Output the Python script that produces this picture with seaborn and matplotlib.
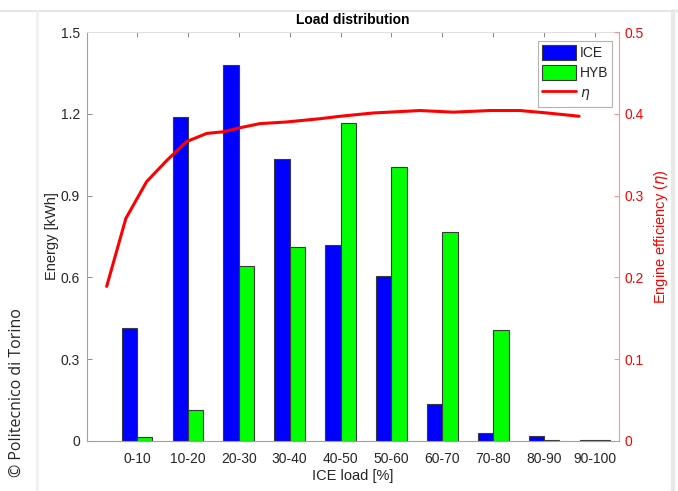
import numpy as np
import pandas as pd
import matplotlib
matplotlib.use("Agg")
import matplotlib.pyplot as plt
import seaborn as sns
from matplotlib.lines import Line2D
from matplotlib.patches import Patch

# ---- data ----
categories = ["0-10", "10-20", "20-30", "30-40", "40-50",
              "50-60", "60-70", "70-80", "80-90", "90-100"]
ice_energy = [0.414, 1.188, 1.379, 1.034, 0.717, 0.604, 0.135, 0.030, 0.019, 0.003]
hyb_energy = [0.016, 0.115, 0.642, 0.712, 1.167, 1.004, 0.765, 0.407, 0.003, 0.003]
# engine efficiency curve (load in % of the axis span, efficiency)
eta_load = [3.7, 7.3, 11.2, 15.0, 18.7, 22.5, 25.6, 28.8, 32.5, 37.5,
            43.8, 47.6, 53.8, 62.6, 68.8, 75.8, 81.4, 86.5, 92.5]
eta_value = [0.189, 0.272, 0.317, 0.343, 0.366, 0.376, 0.378, 0.383, 0.388, 0.390,
             0.394, 0.397, 0.401, 0.404, 0.402, 0.404, 0.404, 0.401, 0.397]
left_ticks = [0, 0.3, 0.6, 0.9, 1.2, 1.5]
left_ticklabels = ["0", "0.3", "0.6", "0.9", "1.2", "1.5"]
right_ticks = [0, 0.1, 0.2, 0.3, 0.4, 0.5]
right_ticklabels = ["0", "0.1", "0.2", "0.3", "0.4", "0.5"]

df = pd.DataFrame({
    "load": categories * 2,
    "energy": ice_energy + hyb_energy,
    "type": ["ICE"] * len(categories) + ["HYB"] * len(categories),
})

sns.set_theme(style="white")
plt.rcParams["font.family"] = ["Liberation Sans", "DejaVu Sans"]

W, H = 678, 491
fig = plt.figure(figsize=(W / 100, H / 100), dpi=100)
fig.patch.set_facecolor("white")
ax = fig.add_axes([87 / W, 1 - 441 / H, (619 - 87) / W, (441 - 32) / H])

blue = "#0000FF"
green = "#00FF00"
red = "#FF0000"

sns.barplot(data=df, x="load", y="energy", hue="type", order=categories,
            hue_order=["ICE", "HYB"], palette=[blue, green], width=0.6,
            edgecolor="#3a3a3a", linewidth=0.8, ax=ax, legend=False,
            errorbar=None, saturation=1)

xlo, xhi = -0.98, 9.47
ax.set_xlim(xlo, xhi)
ax.set_ylim(0, 1.5)
ax.set_yticks(left_ticks)
ax.set_yticklabels(left_ticklabels)
ax.set_xlabel("ICE load [%]", fontsize=10.5, color="#262626", labelpad=2)
ax.set_ylabel("Energy [kWh]", fontsize=10.5, color="#262626", labelpad=1)
ax.set_title("Load distribution", fontsize=10, fontweight="bold", color="black", pad=6)
ax.tick_params(axis="both", which="both", direction="in", length=3.5, width=0.6,
               color="#777777", labelsize=10, labelcolor="#262626", top=True, pad=5)
ax.tick_params(axis="x", pad=8)
for s in ["left", "bottom"]:
    ax.spines[s].set_color("#a0a0a0")
    ax.spines[s].set_linewidth(0.8)
ax.spines["top"].set_color("#e0e0e0")
ax.spines["top"].set_linewidth(0.8)
ax.spines["right"].set_visible(False)

# right axis (efficiency)
ax2 = ax.twinx()
ax2.set_ylim(0, 0.5)
ax2.set_yticks(right_ticks)
ax2.set_yticklabels(right_ticklabels)
ax2.tick_params(axis="y", direction="in", length=3.5, width=0.6, color="#ff8080",
                labelcolor=red, labelsize=10, pad=4)
for s in ["left", "top", "bottom"]:
    ax2.spines[s].set_visible(False)
ax2.spines["right"].set_color("#ff9090")
ax2.spines["right"].set_linewidth(0.8)
ax2.set_ylabel(r"Engine efficiency ($\eta$)", color=red, fontsize=10.5, labelpad=6)

# efficiency curve: load % of axis span mapped onto shared x scale
eta_x = [xlo + (v / 100.0) * (xhi - xlo) for v in eta_load]
ax2.plot(eta_x, eta_value, color=red, linewidth=2.2, solid_capstyle="round")

# legend
handles = [Patch(facecolor=blue, edgecolor="#3a3a3a", linewidth=0.8),
           Patch(facecolor=green, edgecolor="#3a3a3a", linewidth=0.8),
           Line2D([0], [0], color=red, linewidth=2)]
leg = ax2.legend(handles, ["ICE", "HYB", r"$\eta$"], loc="upper right",
                 bbox_to_anchor=(0.993, 0.985), fontsize=10, frameon=True,
                 fancybox=False, edgecolor="#a0a0a0", handlelength=2.4,
                 handleheight=1.3, handletextpad=0.3, borderpad=0.3,
                 labelspacing=0.35, borderaxespad=0.2)
leg.get_frame().set_linewidth(0.8)

# watermark
fig.text(17 / W, 1 - 393 / H, "© Politecnico di Torino", rotation=90,
         ha="center", va="center", fontsize=11.5, color="#262626",
         family=["Open Sans", "DejaVu Sans"])

# faint frame lines of the original screenshot
fig.add_artist(Line2D([0, 1], [1 - 10.5 / H, 1 - 10.5 / H], color="#e6e6e6", linewidth=1.5))
fig.add_artist(Line2D([673 / W, 673 / W], [0, 1 - 10.5 / H], color="#e8e8e8", linewidth=3))
fig.add_artist(Line2D([37 / W, 37 / W], [0, 1 - 10.5 / H], color="#f0f0f0", linewidth=2))

fig.savefig("out.png", dpi=100, facecolor="white")
